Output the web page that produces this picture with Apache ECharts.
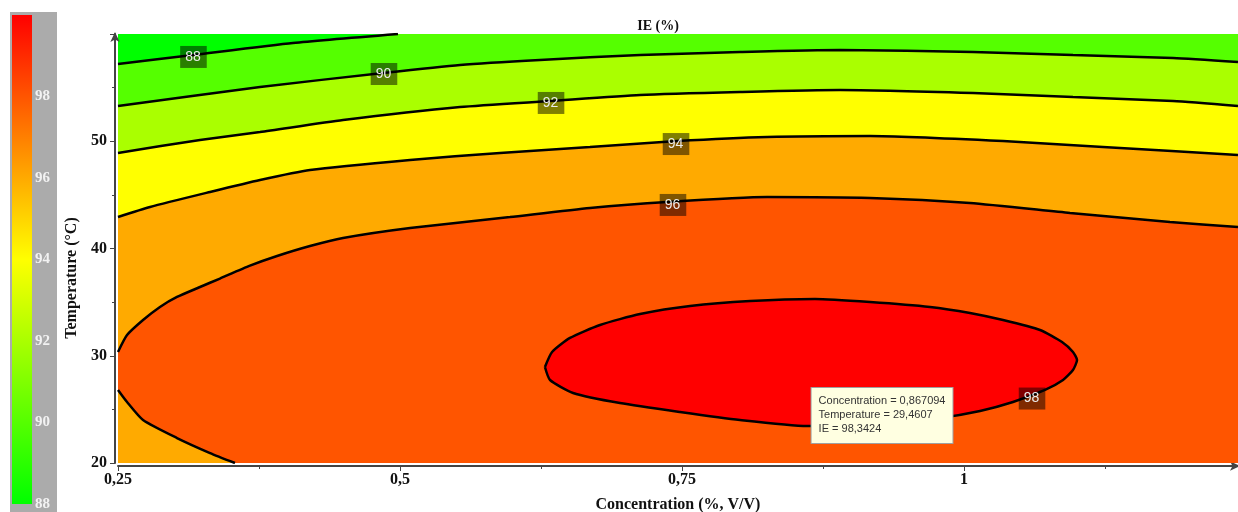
<!DOCTYPE html>
<html><head><meta charset="utf-8">
<script src="https://cdn.jsdelivr.net/npm/echarts@6/dist/echarts.min.js"></script>
<style>html,body{margin:0;padding:0;background:#fff}#c{width:1238px;height:512px}</style>
</head><body><div id="c"></div>
<script>
// ---- texts ----
const chartTitle = 'IE (%)';
const xName = 'Concentration (%, V/V)';
const yName = 'Temperature (°C)';

// ---- axes ----
const xMin = 0.25, xMax = 1.2429, xStep = 0.25;
const yMin = 20, yMax = 60, yStep = 10;
const scaleMin = 88, scaleMax = 100, scaleStep = 2;

// ---- contour levels ----
const levels = [88, 90, 92, 94, 96, 98];
const levelColors = ['#55ff00', '#aaff00', '#ffff00', '#ffaa00', '#ff5500', '#ff0000'];
const belowColor = '#00ff00';

// contour lines: [concentration, temperature]
const contour88 = [[0.25,57.20],[0.3165,58.04],[0.4051,59.16],[0.4982,60.0]];
const contour90 = [[0.25,53.29],[0.3759,55.06],[0.4849,56.36],[0.5532,57.11],[0.6241,57.58],[0.7128,58.04],[0.8014,58.32],[0.8901,58.51],[1.0080,58.32],[1.0966,58.04],[1.1853,57.76],[1.2429,57.39]];
const contour92 = [[0.25,48.91],[0.3227,50.12],[0.3759,50.86],[0.4495,51.98],[0.5532,53.19],[0.6330,53.75],[0.7128,54.31],[0.8014,54.59],[0.8901,54.78],[1.0080,54.50],[1.0966,54.13],[1.1853,53.75],[1.2429,53.29]];
const contour94 = [[0.25,42.94],[0.2784,43.87],[0.3316,45.27],[0.3759,46.39],[0.4202,47.32],[0.5089,48.25],[0.5887,48.91],[0.6684,49.46],[0.7456,50.02],[0.8254,50.40],[0.9167,50.49],[1.0346,50.02],[1.1232,49.46],[1.2429,48.72]];
const contour96Upper = [[0.25,30.35],[0.2580,31.93],[0.2722,33.33],[0.2872,34.55],[0.3023,35.48],[0.3227,36.41],[0.3404,37.20],[0.3670,38.40],[0.3910,39.30],[0.4202,40.23],[0.4495,40.98],[0.5089,41.91],[0.5975,42.94],[0.6684,43.78],[0.7367,44.34],[0.8254,44.80],[0.9167,44.71],[1.0053,44.24],[1.0940,43.31],[1.1826,42.47],[1.2429,42.00]];
const contour96Lower = [[0.3537,20.0],[0.3316,20.93],[0.3023,22.33],[0.2722,24.01],[0.2580,25.69],[0.25,26.81]];
const contour98 = [[0.6285,28.95],[0.6348,30.35],[0.6507,31.66],[0.6773,32.87],[0.7128,33.89],[0.7571,34.64],[0.8103,35.10],[0.8679,35.29],[0.9167,35.01],[0.9699,34.55],[1.0053,33.99],[1.0346,33.33],[1.0674,32.40],[1.0869,31.28],[1.0966,30.35],[1.1002,29.60],[1.0966,28.67],[1.0878,27.74],[1.0718,26.81],[1.0434,25.69],[1.0142,24.85],[0.9787,24.20],[0.9344,23.73],[0.8901,23.45],[0.8608,23.45],[0.8014,24.01],[0.7482,24.76],[0.6950,25.59],[0.6534,26.53],[0.6330,27.74],[0.6285,28.95]];

// contour label positions: [concentration, temperature, level]
const contourLabels = [[0.3169,57.86,88],[0.4858,56.27,90],[0.6339,53.57,92],[0.7447,49.74,94],[0.7420,44.06,96],[1.0603,26.01,98]];

// optimum tooltip
const optConc = 0.867094, optTemp = 29.4607, optIE = 98.3424;

const comma = v => String(v).replace('.', ',');
const serif = 'Liberation Serif';

// superlevel regions
const regions = [
  contour88.concat([[xMax, yMax], [xMax, yMin], [xMin, yMin]]),
  contour90.concat([[xMax, yMin], [xMin, yMin]]),
  contour92.concat([[xMax, yMin], [xMin, yMin]]),
  contour94.concat([[xMax, yMin], [xMin, yMin]]),
  contour96Upper.concat([[xMax, yMin]], contour96Lower),
  contour98
];
const lines = [contour88, contour90, contour92, contour94, contour96Upper, contour96Lower, contour98];

const series = [];
regions.forEach((pts, i) => {
  series.push({
    type: 'custom', xAxisIndex: 0, yAxisIndex: 0, silent: true, z: 1 + i * 0.01, clip: true,
    data: [pts[0]], encode: {x: 0, y: 1},
    renderItem: (params, api) => ({
      type: 'polygon',
      shape: {points: pts.map(p => api.coord(p))},
      style: {fill: levelColors[i], stroke: levelColors[i], lineWidth: 0.6}
    })
  });
});
lines.forEach(pts => {
  series.push({
    type: 'line', xAxisIndex: 0, yAxisIndex: 0, data: pts, symbol: 'none', silent: true, z: 5,
    clip: true, smooth: 0.2, lineStyle: {color: '#000', width: 2.5}, animation: false
  });
});
series.push({
  type: 'scatter', xAxisIndex: 0, yAxisIndex: 0, data: contourLabels, silent: true, z: 8,
  symbolSize: 1, itemStyle: {color: 'rgba(0,0,0,0)', opacity: 1},
  label: {
    show: true, position: 'inside', formatter: p => String(p.value[2]),
    color: '#ececec', fontSize: 14, fontFamily: 'Liberation Sans',
    backgroundColor: 'rgba(0,0,0,0.5)', padding: [4, 6, 4, 5]
  }
});
series.push({
  type: 'scatter', xAxisIndex: 0, yAxisIndex: 0, data: [[optConc, optTemp]], silent: true, z: 9,
  symbolSize: 1, itemStyle: {color: 'rgba(0,0,0,0)', opacity: 1},
  label: {
    show: true, position: [-2, 27], align: 'left', verticalAlign: 'top',
    formatter: 'Concentration = ' + comma(optConc) + '\nTemperature = ' + comma(optTemp) + '\nIE = ' + comma(optIE),
    color: '#333', fontSize: 11, lineHeight: 14, fontFamily: 'Liberation Sans',
    backgroundColor: '#ffffe1', borderColor: '#a0a0a0', borderWidth: 1, padding: [6, 7, 7, 7]
  }
});

const axisFont = {fontFamily: serif, fontWeight: 'bold', fontSize: 16, color: '#111'};

const option = {
  animation: false,
  title: {text: chartTitle, left: 653, top: 14, textAlign: 'center',
    textStyle: {fontFamily: serif, fontWeight: 'bold', fontSize: 14, color: '#111'}},
  graphic: [
    {type: 'rect', shape: {x: 10, y: 12, width: 47, height: 510}, style: {fill: '#ababab'}, z: -10},
    {type: 'rect', shape: {x: 12, y: 15, width: 20, height: 489}, z: -9,
      style: {fill: {type: 'linear', x: 0, y: 0, x2: 0, y2: 1, colorStops: [
        {offset: 0, color: '#ff0000'}, {offset: 1/6, color: '#ff5500'}, {offset: 2/6, color: '#ffaa00'},
        {offset: 3/6, color: '#ffff00'}, {offset: 4/6, color: '#aaff00'}, {offset: 5/6, color: '#55ff00'},
        {offset: 1, color: '#00ff00'}]}}}
  ],
  grid: [
    {left: 118, right: 0, top: 34, bottom: 49, show: true, backgroundColor: belowColor, borderWidth: 0,
      outerBoundsMode: 'none', containLabel: false},
    {left: 12, top: 15, width: 20, height: 489, show: false, outerBoundsMode: 'none', containLabel: false}
  ],
  xAxis: [
    {type: 'value', gridIndex: 0, min: xMin, max: xMax, interval: xStep, offset: 3,
      axisLine: {show: true, lineStyle: {color: '#444', width: 2}, symbol: ['none', 'arrow'], symbolSize: [7, 10], symbolOffset: [0, 2]},
      axisTick: {show: true, length: 5, lineStyle: {color: '#444'}},
      minorTick: {show: true, splitNumber: 2, length: 3, lineStyle: {color: '#444'}},
      splitLine: {show: false},
      axisLabel: Object.assign({margin: 6, showMaxLabel: false, formatter: v => v > 1.2 ? '' : comma(v)}, axisFont),
      name: xName, nameLocation: 'middle', nameGap: 31, nameTextStyle: axisFont},
    {type: 'value', gridIndex: 1, show: false, min: 0, max: 1}
  ],
  yAxis: [
    {type: 'value', gridIndex: 0, min: yMin, max: yMax, interval: yStep, offset: 3,
      axisLine: {show: true, lineStyle: {color: '#444', width: 2}, symbol: ['none', 'arrow'], symbolSize: [7, 10], symbolOffset: [0, 2]},
      axisTick: {show: true, length: 5, lineStyle: {color: '#444'}},
      minorTick: {show: true, splitNumber: 2, length: 3, lineStyle: {color: '#444'}},
      splitLine: {show: false},
      axisLabel: Object.assign({margin: 8, showMaxLabel: false}, axisFont),
      name: yName, nameLocation: 'middle', nameGap: 35,
      nameTextStyle: Object.assign({padding: [0, 59, 0, 0]}, axisFont)},
    {type: 'value', gridIndex: 1, position: 'right', min: scaleMin, max: scaleMax, interval: scaleStep,
      axisLine: {show: false}, axisTick: {show: false}, splitLine: {show: false},
      axisLabel: {margin: 3, showMaxLabel: false, color: '#f2f2f2', fontFamily: serif, fontWeight: 'bold', fontSize: 15}}
  ],
  series: series
};
const chart = echarts.init(document.getElementById('c'), null, {renderer: 'canvas'});
chart.setOption(option);
</script></body></html>
